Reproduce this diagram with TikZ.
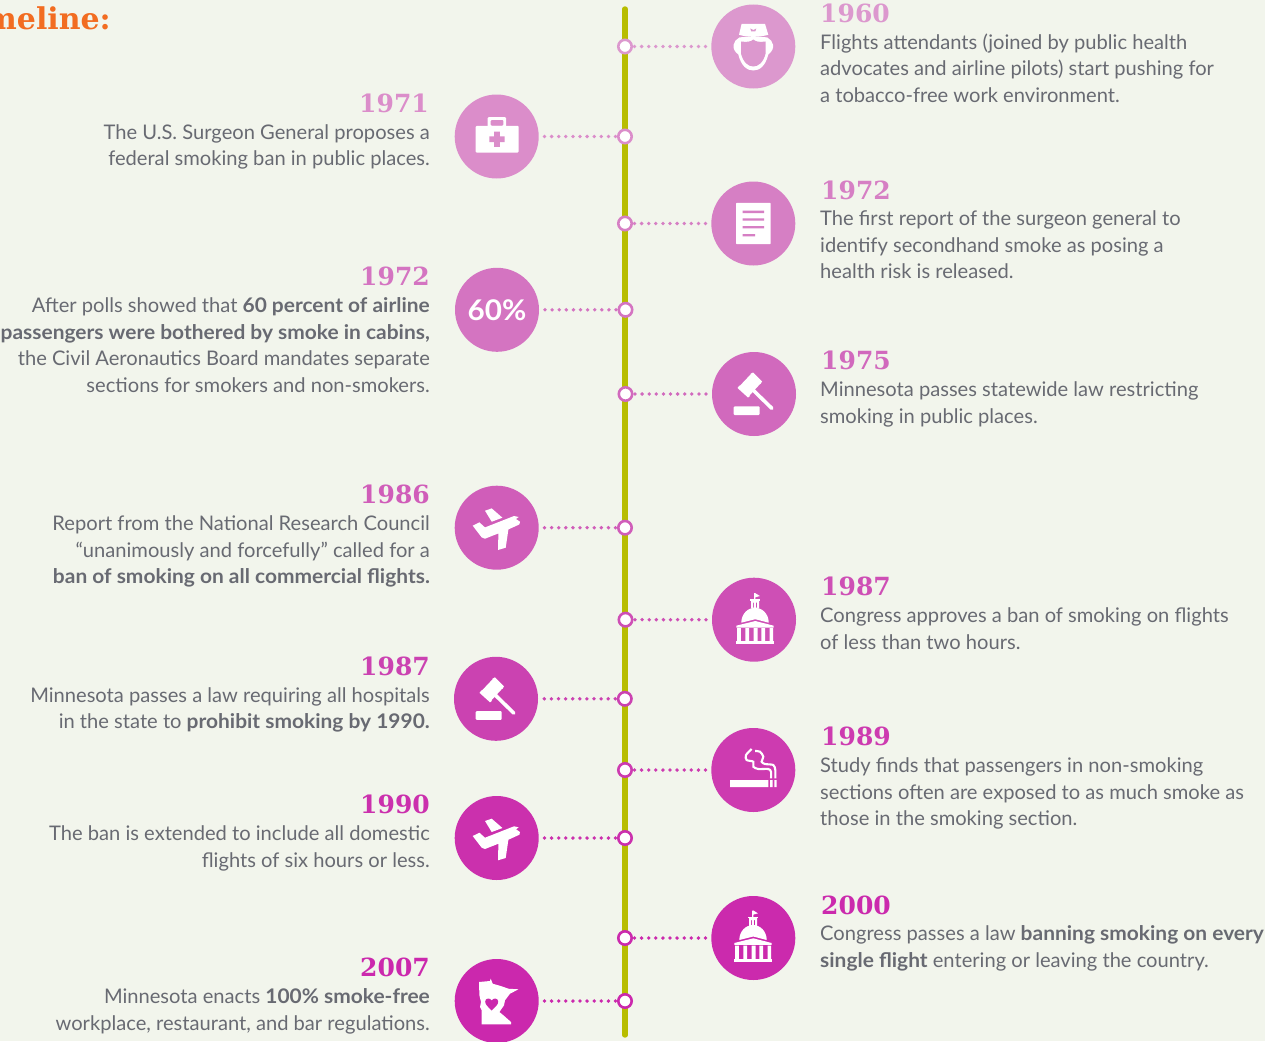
\documentclass[tikz,border=0pt]{standalone}
\usepackage{fontspec}
\setmainfont{Lato}[BoldFeatures={FakeStretch=1.04}]
\newfontfamily\yearfont{DejaVu Serif}
\definecolor{paper}{HTML}{F2F5EC}
\definecolor{spine}{HTML}{B8BD00}
\definecolor{bodygrey}{HTML}{686A72}
\definecolor{titleorange}{HTML}{F26C21}
\definecolor{ca}{HTML}{DC98CE}
\definecolor{cb}{HTML}{DB8DCA}
\definecolor{cc}{HTML}{D67FC4}
\definecolor{cd}{HTML}{D474C1}
\definecolor{ce}{HTML}{D169BD}
\definecolor{cf}{HTML}{D05DB9}
\definecolor{cg}{HTML}{CE4FB5}
\definecolor{ch}{HTML}{CB42B1}
\definecolor{ci}{HTML}{CD3BB0}
\definecolor{cj}{HTML}{CB30AD}
\definecolor{ck}{HTML}{CB2AAD}
\definecolor{cl}{HTML}{CB28AD}
\tikzset{
  dotnode/.style={circle,draw=#1,fill=white,line width=2.6pt,minimum size=13.4pt,inner sep=0pt},
  iconnode/.style={circle,fill=#1,minimum size=84pt,inner sep=0pt},
  link/.style={draw=#1,line width=3.8pt,line cap=round,dash pattern=on 0pt off 7.1pt,shorten <=1.5pt,shorten >=4pt},
  yearleft/.style={text=#1,anchor=east,inner sep=0pt,font=\yearfont\bfseries\fontsize{25}{25}\selectfont},
  yearright/.style={text=#1,anchor=west,inner sep=0pt,font=\yearfont\bfseries\fontsize{25}{25}\selectfont},
  bodyleft/.style={text=bodygrey,anchor=north east,align=right,inner sep=0pt,font=\fontsize{20.13}{26.6}\selectfont},
  bodyright/.style={text=bodygrey,anchor=north west,align=left,inner sep=0pt,font=\fontsize{20.13}{26.6}\selectfont},
  nurse/.pic={
    \fill[white] (-11.7,-22.7) -- (11.7,-22.7) -- (15,-11.7) .. controls (5,-9) and (-5,-9) .. (-14.3,-11.7) -- cycle;
    \fill[#1] (-3,-18) -- (0,-16.5) -- (3,-18) -- (2,-15) -- (-2,-15) -- cycle;
    \fill[white] (-14,-9) .. controls (-8,-10) and (8,-10) .. (14,-9) .. controls (20,-6) and (23,2) .. (15,8) .. controls (12,20) and (6,24) .. (0,24) .. controls (-6,24) and (-12,20) .. (-15,8) .. controls (-23,2) and (-20,-6) .. (-14,-9) -- cycle;
    \fill[#1] (-12.3,-5) .. controls (-6,-4) and (-2,-5) .. (0,-7) .. controls (2,-5) and (6,-4) .. (12.3,-5) -- (12.3,7) .. controls (10,16) and (5,20) .. (0,20) .. controls (-5,20) and (-10,16) .. (-12.3,7) -- cycle;
  },
  medkit/.pic={
    \fill[white,rounded corners=1pt] (-21,-10.7) rectangle (21.9,16);
    \fill[white,rounded corners=1pt,even odd rule] (-9,-19.3) rectangle (9.3,-9) (-6,-16.7) rectangle (6.7,-10.7);
    \fill[#1] (-2.5,-5) rectangle (3.1,10.4) (-7.4,-0.1) rectangle (8,5.5);
  },
  report/.pic={
    \fill[white,rounded corners=0.7pt] (-17.3,-20.7) rectangle (17.3,20.7);
    \fill[#1] (-10.7,-12.9) rectangle (10.7,-10.5) (-10.7,-5.2) rectangle (10.7,-2.8) (-10.7,2.5) rectangle (10.7,4.9) (-10.7,10.5) rectangle (1.7,12.9);
  },
  gavel/.pic={
    \fill[white,rounded corners=1pt] (-20.3,21) -- (-20.3,12.3) -- (5.7,12.3) -- (5.7,21) -- cycle;
    \fill[white] (-2.7,-20.3) -- (7,-11) -- (-5.3,2.3) -- (-15.3,-7) -- cycle;
    \fill[white] (-3.7,-20) -- (-1,-21.5) -- (8,-12.5) -- (6.5,-10) -- cycle (-16.5,-6) -- (-14.5,-8.5) -- (-4,2) -- (-6,3.5) -- cycle;
    \draw[white,line width=3.6pt,line cap=round] (-1,-4) -- (17.8,14.3);
  },
  plane/.pic={
    \fill[white] (-24,-2) -- (-17.3,-5.3) -- (-11.7,-0.3) -- (17.3,-11.7) -- (22,-10.7) -- (19.3,-8.7) -- (23.3,-6) -- (22.7,-3.3) -- (11.7,1.7) -- (9,20) -- (1.3,22.3) -- (1.7,5.7) -- (-11.7,11) -- (-15,9.7) -- cycle;
    \fill[white] (-11.7,-17) -- (-5,-19.3) -- (5.7,-10) -- (-5,-6) -- cycle;
  },
  capitol/.pic={
    \fill[white] (0,-26.5) rectangle (1.4,-19) (1,-26.7) -- (5.9,-23.7) -- (1,-22.3) -- cycle;
    \fill[white,even odd rule] (-3,-19.7) rectangle (5,-11) (-1,-17) rectangle (0.2,-12) (1.8,-17) rectangle (3,-12);
    \fill[white] (-4.2,-20.4) rectangle (6.2,-18.6);
    \fill[white] (-12.7,3) .. controls (-12.7,-6) and (-6,-12) .. (1,-12) .. controls (8,-12) and (14.7,-6) .. (14.7,3) -- (1.3,-0.5) -- cycle;
    \fill[white] (-17.7,6) -- (1.3,1.3) -- (19.7,6) -- (19.7,7.8) -- (-17.7,7.8) -- cycle;
    \fill[white] (-17,8.5) rectangle (-13.2,22) (-8.7,8.5) rectangle (-4.9,22) (-0.3,8.5) rectangle (3.5,22) (7.3,8.5) rectangle (11.1,22) (15.5,8.5) rectangle (19,22);
    \fill[white] (-17.7,21.5) rectangle (19.7,24.5);
  },
  cigarette/.pic={
    \fill[white] (-23.3,10) rectangle (15,17) (16.7,10) rectangle (19.3,17) (21,10) rectangle (23.3,17);
    \draw[white,line width=2.1pt] plot[smooth] coordinates {(22,8.3) (22,0) (20,-5) (11.7,-6) (8.3,-8.3) (10,-13.3) (6.7,-18.3) (1.7,-19)};
    \draw[white,line width=2.1pt] plot[smooth] coordinates {(17.7,8.3) (17.7,1.7) (15,-1) (5,-1) (0,-3.3) (0,-8.3) (-6.7,-10) (-7.3,-15) (-1.7,-21)};
  },
  mnstate/.pic={
    \fill[white] (-17.7,-19) -- (-6.7,-20) -- (-6,-22.3) -- (-4,-17.3) -- (5,-14.7) -- (11.7,-12.3) -- (21.7,-11.7) -- (13.3,-7.3) -- (8.3,-0.7) -- (7.3,4.3) -- (2.7,11) -- (6.7,14.3) -- (14.3,21) -- (14.3,23.3) -- (-15,23.3) -- (-15,9.3) -- (-16.7,6) -- (-15.7,1) -- (-17.3,-5.7) -- cycle;
    \fill[#1] (-5,9.5) .. controls (-9,5.5) and (-11.5,3.5) .. (-11.5,0.5) .. controls (-11.5,-3) and (-6.5,-3.5) .. (-5,-0.5) .. controls (-3.5,-3.5) and (1.5,-3) .. (1.5,0.5) .. controls (1.5,3.5) and (-1,5.5) .. (-5,9.5) -- cycle;
  }
}
\begin{document}
\begin{tikzpicture}[x=1pt,y=-1pt]
\useasboundingbox[fill=paper] (0,0) rectangle (1265,1041);

% title, cut by the page edge
\node[text=titleorange,anchor=east,inner sep=0pt,font=\yearfont\bfseries\fontsize{30}{30}\selectfont] (title) at (111,18) {meline:};

% spine
\coordinate (spinetop) at (625,9);
\coordinate (spinebottom) at (625,1035);
\draw[spine,line width=5.4pt,line cap=round] (spinetop) -- (spinebottom);

% dots on the spine
\node[dotnode=ca] (dot60) at (625,46.5) {};
\node[dotnode=cb] (dot71) at (625,136.5) {};
\node[dotnode=cc] (dot72r) at (625,223.5) {};
\node[dotnode=cd] (dot72l) at (625.5,309.8) {};
\node[dotnode=ce] (dot75) at (625.5,394) {};
\node[dotnode=cf] (dot86) at (625,527.7) {};
\node[dotnode=cg] (dot87r) at (625.5,619.7) {};
\node[dotnode=ch] (dot87l) at (624.8,698.8) {};
\node[dotnode=ci] (dot89) at (625,770) {};
\node[dotnode=cj] (dot90) at (625,838) {};
\node[dotnode=ck] (dot00) at (625,938) {};
\node[dotnode=cl] (dot07) at (625,1001) {};

% icon circles
\node[iconnode=ca] (icon60) at (753.3,46.5) {};
\node[iconnode=cb] (icon71) at (496.7,136.5) {};
\node[iconnode=cc] (icon72r) at (753.3,223.5) {};
\node[iconnode=cd,text=white,font=\bfseries\fontsize{28.5}{29}\selectfont] (icon72l) at (497,309.8) {60\%};
\node[iconnode=ce] (icon75) at (754,394) {};
\node[iconnode=cf] (icon86) at (496.7,527.7) {};
\node[iconnode=cg] (icon87r) at (754,619.7) {};
\node[iconnode=ch] (icon87l) at (496,698.8) {};
\node[iconnode=ci] (icon89) at (753.3,770) {};
\node[iconnode=cj] (icon90) at (496.7,838) {};
\node[iconnode=ck] (icon00) at (753.3,938) {};
\node[iconnode=cl] (icon07) at (496.7,1001) {};

% what is inside the circles
\pic at (icon60) {nurse=ca};
\pic at (icon71) {medkit=cb};
\pic at (icon72r) {report=cc};
\pic at (icon75) {gavel};
\pic at (icon86) {plane};
\pic at (icon87r) {capitol};
\pic at (icon87l) {gavel};
\pic at (icon89) {cigarette};
\pic at (icon90) {plane};
\pic at ([xshift=-1.3pt,yshift=1pt]icon00) {capitol};
\pic at (icon07) {mnstate=cl};

% dotted links
\draw[link=ca] (dot60) -- (icon60);
\draw[link=cb] (dot71) -- (icon71);
\draw[link=cc] (dot72r) -- (icon72r);
\draw[link=cd] (dot72l) -- (icon72l);
\draw[link=ce] (dot75) -- (icon75);
\draw[link=cf] (dot86) -- (icon86);
\draw[link=cg] (dot87r) -- (icon87r);
\draw[link=ch] (dot87l) -- (icon87l);
\draw[link=ci] (dot89) -- (icon89);
\draw[link=cj] (dot90) -- (icon90);
\draw[link=ck] (dot00) -- (icon00);
\draw[link=cl] (dot07) -- (icon07);

% right column
\node[yearright=ca] (year60) at (820,13.5) {1960};
\node[bodyright] (text60) at (820,33.5) {Flights attendants (joined by public health\\advocates and airline pilots) start pushing for\\a tobacco-free work environment.};
\node[yearright=cc] (year72r) at (821,190) {1972};
\node[bodyright] (text72r) at (820,210.7) {The first report of the surgeon general to\\identify secondhand smoke as posing a\\health risk is released.};
\node[yearright=ce] (year75) at (821,360.5) {1975};
\node[bodyright] (text75) at (820,381.7) {Minnesota passes statewide law restricting\\smoking in public places.};
\node[yearright=cg] (year87r) at (821,586.5) {1987};
\node[bodyright] (text87r) at (820,607.7) {Congress approves a ban of smoking on flights\\of less than two hours.};
\node[yearright=ci] (year89) at (821,736.5) {1989};
\node[bodyright] (text89) at (820,757.7) {Study finds that passengers in non-smoking\\sections often are exposed to as much smoke as\\those in the smoking section.};
\node[yearright=ck] (year00) at (821,905.5) {2000};
\node[bodyright] (text00) at (820,925.5) {Congress passes a law \textbf{banning smoking on every}\\\textbf{single flight} entering or leaving the country.};

% left column
\node[yearleft=cb] (year71) at (429,103.5) {1971};
\node[bodyleft] (text71) at (430,124) {The U.S. Surgeon General proposes a\\federal smoking ban in public places.};
\node[yearleft=cd] (year72l) at (430,276.5) {1972};
\node[bodyleft] (text72l) at (430,297.3) {After polls showed that \textbf{60 percent of airline}\\\textbf{passengers were bothered by smoke in cabins,}\\the Civil Aeronautics Board mandates separate\\sections for smokers and non-smokers.};
\node[yearleft=cf] (year86) at (430,494.5) {1986};
\node[bodyleft] (text86) at (430,515.7) {Report from the National Research Council\\“unanimously and forcefully” called for a\\\textbf{ban of smoking on all commercial flights.}};
\node[yearleft=ch] (year87l) at (430,666.5) {1987};
\node[bodyleft] (text87l) at (430,687) {Minnesota passes a law requiring all hospitals\\in the state to \textbf{prohibit smoking by 1990.}};
\node[yearleft=cj] (year90) at (430,804.5) {1990};
\node[bodyleft] (text90) at (430,825.7) {The ban is extended to include all domestic\\flights of six hours or less.};
\node[yearleft=cl] (year07) at (430,967.5) {2007};
\node[bodyleft] (text07) at (430,988.7) {Minnesota enacts \textbf{100\% smoke-free}\\workplace, restaurant, and bar regulations.};
\end{tikzpicture}
\end{document}
